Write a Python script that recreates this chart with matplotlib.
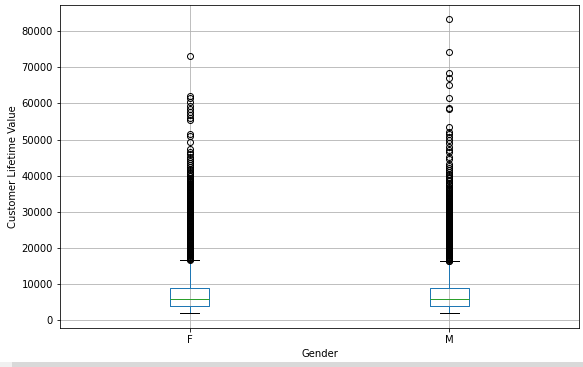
import matplotlib
matplotlib.use("Agg")
import matplotlib.pyplot as plt
from matplotlib.patches import Rectangle

categories = ["F", "M"]

# box statistics
q1 = [3990, 3980]
median = [5800, 5780]
q3 = [9000, 8900]
whisker_low = [1900, 1900]
whisker_high = [16600, 16300]

# outliers (fliers)
fliers_F = [
    16690, 16820, 17010, 17150, 17300, 17490, 17620, 17810, 17950, 18120, 18300, 18440, 18630, 18770,
    18950, 19100, 19280, 19430, 19610, 19760, 19940, 20080, 20270, 20410, 20600, 20740, 20930, 21070,
    21250, 21400, 21580, 21730, 21920, 22060, 22240, 22390, 22570, 22720, 22900, 23050, 23230, 23380,
    23560, 23710, 23890, 24040, 24220, 24370, 24550, 24700, 24880, 25030, 25210, 25360, 25540, 25690,
    25870, 26020, 26200, 26350, 26530, 26680, 26860, 27010, 27190, 27340, 27520, 27670, 27850, 28000,
    28180, 28330, 28510, 28660, 28840, 28990, 29170, 29320, 29500, 29650, 29830, 29980, 30160, 30310,
    30490, 30640, 30820, 30970, 31150, 31300, 31480, 31630, 31810, 31960, 32140, 32290, 32470, 32620,
    32800, 32950, 33130, 33280, 33460, 33610, 33790, 33940, 34120, 34270, 34450, 34600, 34780, 34930,
    35110, 35260, 35440, 35590, 35770, 35920, 36100, 36250, 36430, 36580, 36760, 36910, 37090, 37240,
    37420, 37570, 37750, 37900,
    38120, 38400, 38650, 38900, 39200, 39450, 39800, 40050, 40400, 40750, 41100, 41500, 41900, 42400,
    42900, 43400, 44000, 44600, 45300, 45900, 46500, 47300, 49200, 51000, 51500,
    55400, 56100, 56900, 57600, 58400, 59300, 60400, 61500, 62200, 73225,
]

fliers_M = [
    16350, 16490, 16660, 16800, 16980, 17120, 17300, 17440, 17620, 17760, 17940, 18080, 18260, 18400,
    18580, 18720, 18900, 19040, 19220, 19360, 19540, 19680, 19860, 20000, 20180, 20320, 20500, 20640,
    20820, 20960, 21140, 21280, 21460, 21600, 21780, 21920, 22100, 22240, 22420, 22560, 22740, 22880,
    23060, 23200, 23380, 23520, 23700, 23840, 24020, 24160, 24340, 24480, 24660, 24800, 24980, 25120,
    25300, 25440, 25620, 25760, 25940, 26080, 26260, 26400, 26580, 26720, 26900, 27040, 27220, 27360,
    27540, 27680, 27860, 28000, 28180, 28320, 28500, 28640, 28820, 28960, 29140, 29280, 29460, 29600,
    29780, 29920, 30100, 30240, 30420, 30560, 30740, 30880, 31060, 31200, 31380, 31520, 31700, 31840,
    32020, 32160, 32340, 32480, 32660, 32800, 32980, 33120, 33300, 33440, 33620, 33760, 33940,
    34200, 34450, 34700, 35000, 35250, 35550, 35800, 36100, 36400, 36700, 37000, 37400, 37700, 38100,
    38500, 38900, 39300, 39700, 40200, 40600, 41100, 41600, 42100, 42600, 43200, 44700, 45200, 46500,
    47100, 48000, 49000, 50000, 50700, 51500, 52100, 53500, 58400, 58700, 61500, 65100, 67000, 68400,
    74228, 83325,
]

fliers = [fliers_F, fliers_M]

stats = []
for i, cat in enumerate(categories):
    stats.append({
        "label": cat,
        "q1": q1[i],
        "med": median[i],
        "q3": q3[i],
        "whislo": whisker_low[i],
        "whishi": whisker_high[i],
        "fliers": fliers[i],
    })

W, H = 583, 367
fig = plt.figure(figsize=(W / 72, H / 72), dpi=72)
ax = fig.add_axes([60 / W, 1 - 328 / H, (579 - 60) / W, (328 - 4.5) / H])

ax.bxp(
    stats,
    widths=0.15,
    boxprops=dict(color="#1f77b4"),
    whiskerprops=dict(color="#1f77b4"),
    capprops=dict(color="black"),
    medianprops=dict(color="#2ca02c"),
    flierprops=dict(marker="o", markerfacecolor="none", markeredgecolor="black", markersize=6),
)

ax.grid(True, color="#b0b0b0", linewidth=0.8)
ax.set_axisbelow(True)
ax.set_xlabel("Gender", fontsize=10)
ax.set_ylabel("Customer Lifetime Value", fontsize=10)
ax.tick_params(labelsize=10)
ax.set_xlim(0.5, 2.5)
ax.set_yticks([0, 10000, 20000, 30000, 40000, 50000, 60000, 70000, 80000])

# screenshot scrollbar band at the bottom
fig.patches.append(Rectangle((0, 0), 12 / W, 5 / H, transform=fig.transFigure,
                             facecolor="#f0f0f0", edgecolor="none"))
fig.patches.append(Rectangle((12 / W, 0), 1 - 12 / W, 5 / H, transform=fig.transFigure,
                             facecolor="#d9d9d9", edgecolor="none"))

fig.savefig("out.png", dpi=72)
